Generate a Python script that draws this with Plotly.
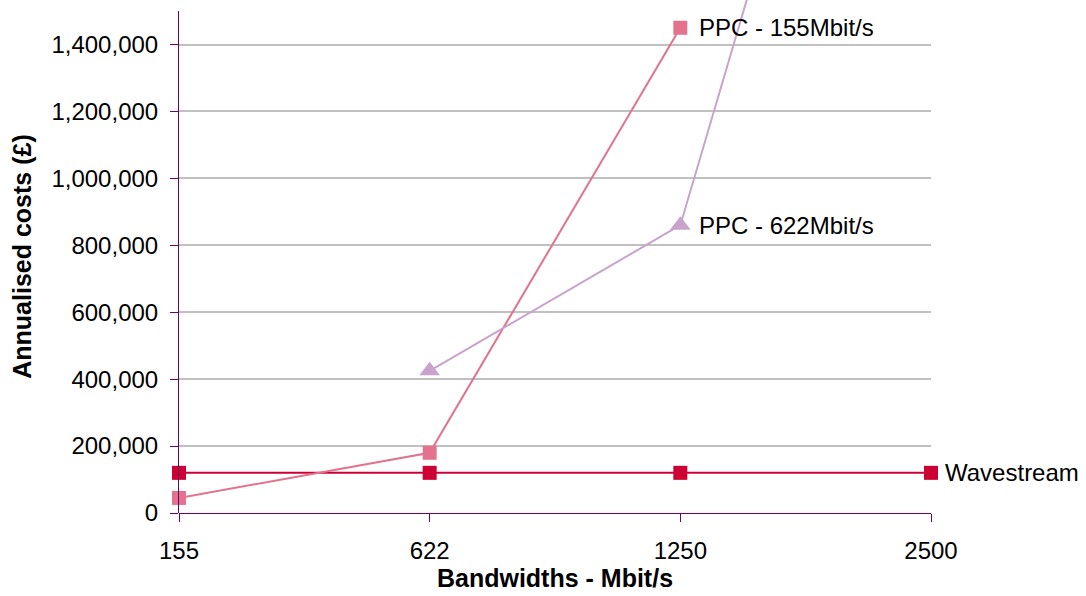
import plotly.graph_objects as go

# Bandwidth categories (Mbit/s) and annualised costs (£)
bandwidths = ["155", "622", "1250", "2500"]
wavestream = [120000, 120000, 120000, 120000]
ppc_155 = [45000, 180000, 1450000, None]
ppc_622 = [None, 425000, 860000, 3400000]

series_names = ["Wavestream", "PPC - 155Mbit/s", "PPC - 622Mbit/s"]
series_colors = ["#CC0033", "#E3728F", "#C9A3CD"]
series_symbols = ["square", "square", "triangle-up"]
series_sizes = [14, 14, 18]
series_values = [wavestream, ppc_155, ppc_622]

FONT = "Liberation Sans, Arial, sans-serif"
AXIS_COLOR = "#6E006E"
PLOT_WIDTH = 1086 - 179 - 155

fig = go.Figure()
for name, color, symbol, size, values in zip(series_names, series_colors, series_symbols,
                                              series_sizes, series_values):
    fig.add_trace(go.Scatter(
        x=bandwidths, y=values, name=name, mode="lines+markers",
        line=dict(color=color, width=2),
        marker=dict(symbol=symbol, size=size, color=color),
        cliponaxis=False, connectgaps=False,
    ))

# Series labels beside the last visible point of each line
# (category index is used so numeric-looking names are not read as positions)
label_points = [
    ("Wavestream", bandwidths.index("2500"), wavestream[3], 12),
    ("PPC - 155Mbit/s", bandwidths.index("1250"), ppc_155[2], 17),
    ("PPC - 622Mbit/s", bandwidths.index("1250"), ppc_622[2], 17),
]
for text, xv, yv, shift in label_points:
    fig.add_annotation(x=xv, y=yv, xref="x", yref="y", text=text, showarrow=False,
                       xanchor="left", yanchor="middle", xshift=shift,
                       font=dict(family=FONT, size=24, color="#000000"))

# Vertical value axis line, stopping at the top of the value scale
axis_x = -0.5 / PLOT_WIDTH
fig.add_shape(type="line", xref="paper", yref="y", x0=axis_x, x1=axis_x, y0=0, y1=1500000,
              line=dict(color=AXIS_COLOR, width=1), layer="above")

fig.update_layout(
    width=1086, height=596,
    margin=dict(l=179, r=155, t=0, b=83),
    paper_bgcolor="white", plot_bgcolor="white",
    showlegend=False,
    font=dict(family=FONT, size=24, color="#000000"),
    xaxis=dict(
        type="category", range=[0, 3],
        showgrid=False, zeroline=False,
        showline=True, linecolor=AXIS_COLOR, linewidth=1,
        ticks="outside", ticklen=8, tickcolor=AXIS_COLOR, tickwidth=1,
        tickfont=dict(family=FONT, size=24), ticklabelstandoff=8,
        title=dict(text="<b>Bandwidths - Mbit/s</b>", font=dict(family=FONT, size=25), standoff=4),
    ),
    yaxis=dict(
        range=[0, 1533000], tick0=0, dtick=200000, tickformat=",",
        showgrid=True, gridcolor="#C0C0C0", gridwidth=2,
        zeroline=False, showline=False,
        ticks="outside", ticklen=8, tickcolor=AXIS_COLOR, tickwidth=1,
        tickfont=dict(family=FONT, size=24), ticklabelstandoff=7,
        title=dict(text="<b>Annualised costs (£)</b>", font=dict(family=FONT, size=25), standoff=12),
    ),
)

fig.write_html("out.html")
